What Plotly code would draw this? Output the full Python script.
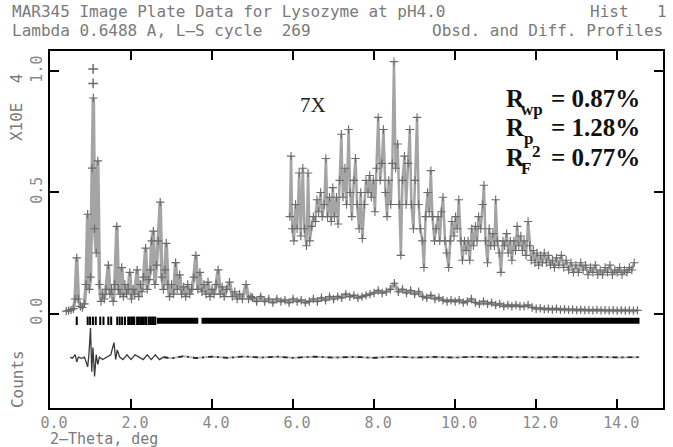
import plotly.graph_objects as go

# ---------------- data (intensities in units of 10^4 counts) ----------------
two_theta = [0.40, 0.46, 0.52, 0.58, 0.62, 0.66, 0.70, 0.75, 0.80, 0.85, 0.89, 0.93, 0.97, 1.00,
             1.04, 1.07, 1.10, 1.14, 1.18, 1.22, 1.26, 1.30, 1.34, 1.38, 1.44, 1.48, 1.52, 1.56,
             1.60, 1.65, 1.69, 1.73, 1.77, 1.81, 1.85, 1.89, 1.93, 1.97, 2.01, 2.05, 2.09, 2.15,
             2.19, 2.23, 2.27, 2.31, 2.36, 2.40, 2.44, 2.48, 2.51, 2.55, 2.59, 2.63, 2.67, 2.72,
             2.76, 2.80, 2.84, 2.87, 2.91, 2.95, 3.00, 3.05, 3.10, 3.14, 3.20, 3.25, 3.30, 3.35,
             3.40, 3.45, 3.50, 3.55, 3.60, 3.65, 3.70, 3.75, 3.80, 3.85, 3.90, 3.95, 4.00, 4.05,
             4.10, 4.15, 4.20, 4.25, 4.30, 4.36, 4.43, 4.50, 4.56, 4.62, 4.68, 4.75, 4.84, 4.90,
             4.96,
             5.0, 5.1, 5.2, 5.3, 5.4, 5.5, 5.6, 5.7, 5.8, 5.9,
             6.0, 6.1, 6.2, 6.3, 6.4, 6.5, 6.6, 6.7, 6.8, 6.9,
             7.0, 7.1, 7.2, 7.3, 7.4, 7.5, 7.6, 7.7, 7.8, 7.9,
             8.0, 8.1, 8.2, 8.3, 8.4, 8.5, 8.6, 8.7, 8.8, 8.9,
             9.0, 9.1, 9.2, 9.3, 9.4, 9.5, 9.6, 9.7, 9.8, 9.9,
             10.0, 10.1, 10.2, 10.3, 10.4, 10.5, 10.6, 10.7, 10.8, 10.9,
             11.0, 11.1, 11.2, 11.3, 11.4, 11.5, 11.6, 11.7, 11.8, 11.9,
             12.0, 12.1, 12.2, 12.3, 12.4, 12.5, 12.6, 12.7, 12.8, 12.9,
             13.0, 13.1, 13.2, 13.3, 13.4, 13.5, 13.6, 13.7, 13.8, 13.9,
             14.0, 14.1, 14.2, 14.3, 14.4, 14.5]
intensity = [0.010, 0.012, 0.015, 0.020, 0.060, 0.230, 0.060, 0.030, 0.025, 0.040, 0.120, 0.410, 0.100, 0.150,
             0.600, 0.890, 0.350, 0.250, 0.630, 0.120, 0.050, 0.080, 0.060, 0.100, 0.200, 0.080, 0.100, 0.050,
             0.120, 0.360, 0.100, 0.080, 0.190, 0.070, 0.120, 0.080, 0.100, 0.170, 0.060, 0.100, 0.080, 0.180,
             0.070, 0.120, 0.090, 0.150, 0.270, 0.100, 0.140, 0.180, 0.300, 0.340, 0.120, 0.200, 0.300, 0.460,
             0.150, 0.100, 0.180, 0.290, 0.120, 0.070, 0.120, 0.080, 0.210, 0.100, 0.160, 0.080, 0.110, 0.070,
             0.120, 0.080, 0.100, 0.150, 0.240, 0.100, 0.170, 0.090, 0.120, 0.080, 0.130, 0.070, 0.100, 0.080,
             0.120, 0.180, 0.080, 0.110, 0.070, 0.100, 0.130, 0.070, 0.090, 0.060, 0.080, 0.060, 0.120, 0.060,
             0.070,
             0.065, 0.050, 0.070, 0.050, 0.060, 0.045, 0.060, 0.050, 0.055, 0.045,
             0.060, 0.050, 0.055, 0.045, 0.050, 0.060, 0.050, 0.065, 0.055, 0.070,
             0.060, 0.070, 0.065, 0.080, 0.070, 0.075, 0.065, 0.070, 0.075, 0.080,
             0.085, 0.095, 0.085, 0.090, 0.100, 0.125, 0.090, 0.100, 0.085, 0.095,
             0.080, 0.090, 0.070, 0.065, 0.075, 0.060, 0.065, 0.055, 0.050, 0.055,
             0.050, 0.055, 0.045, 0.050, 0.060, 0.045, 0.040, 0.050, 0.040, 0.045,
             0.035, 0.040, 0.030, 0.035, 0.030, 0.035, 0.030, 0.030, 0.035, 0.025,
             0.020, 0.022, 0.018, 0.020, 0.017, 0.020, 0.016, 0.018, 0.015, 0.017,
             0.014, 0.016, 0.014, 0.015, 0.013, 0.015, 0.013, 0.014, 0.012, 0.014,
             0.012, 0.014, 0.012, 0.013, 0.012, 0.013]

# extra observed points standing above the strongest calculated peak
peak_obs_x = [1.065, 1.065]
peak_obs_y = [0.95, 1.01]

# 7X magnified high-angle section (as drawn, offset)
mag_x = [5.92, 5.95, 5.98, 6.02, 6.06, 6.10, 6.15, 6.19, 6.24, 6.28, 6.33, 6.37, 6.41, 6.46, 6.50,
         6.55, 6.59, 6.63, 6.68, 6.72, 6.77, 6.81, 6.85, 6.90, 6.94, 6.98, 7.02, 7.07, 7.11, 7.15,
         7.19, 7.23, 7.28, 7.32, 7.37, 7.41, 7.45, 7.50, 7.54, 7.58, 7.63, 7.67, 7.71, 7.76, 7.80,
         7.85, 7.89, 7.93, 7.98, 8.02, 8.06, 8.10, 8.15, 8.19, 8.23, 8.28, 8.32, 8.36, 8.41, 8.45,
         8.49, 8.53, 8.58, 8.62, 8.66, 8.70, 8.75, 8.79, 8.84, 8.88, 8.92, 8.97, 9.01, 9.06, 9.10,
         9.14, 9.19, 9.23, 9.27, 9.32, 9.36, 9.40, 9.44, 9.49, 9.53, 9.58, 9.62, 9.66, 9.70, 9.75,
         9.79, 9.84, 9.88, 9.92, 9.97, 10.01, 10.05, 10.09, 10.14, 10.18, 10.23, 10.27, 10.32, 10.36,
         10.41, 10.45, 10.50, 10.54, 10.58, 10.63, 10.68, 10.71, 10.75, 10.80, 10.84, 10.88, 10.93,
         10.97, 11.00, 11.04, 11.09, 11.13, 11.18, 11.22, 11.27, 11.31, 11.36, 11.40, 11.45, 11.49,
         11.53, 11.57, 11.62, 11.66, 11.70, 11.75, 11.80, 11.84, 11.88, 11.93, 11.97, 12.02, 12.06,
         12.11, 12.15, 12.20, 12.25, 12.30, 12.35, 12.40, 12.45, 12.50, 12.56, 12.62, 12.68, 12.74,
         12.80, 12.86, 12.92, 12.98, 13.04, 13.10, 13.16, 13.22, 13.28, 13.34, 13.40, 13.46, 13.52,
         13.58, 13.64, 13.70, 13.76, 13.82, 13.88, 13.94, 14.00, 14.06, 14.12, 14.18, 14.24, 14.30,
         14.36, 14.42]
mag_y = [0.40, 0.65, 0.35, 0.30, 0.45, 0.35, 0.58, 0.32, 0.60, 0.35, 0.28, 0.58, 0.30, 0.36, 0.40,
         0.38, 0.47, 0.42, 0.50, 0.40, 0.45, 0.64, 0.40, 0.48, 0.38, 0.52, 0.40, 0.48, 0.37, 0.55,
         0.74, 0.48, 0.60, 0.45, 0.76, 0.50, 0.40, 0.55, 0.64, 0.45, 0.35, 0.50, 0.31, 0.45, 0.55,
         0.50, 0.57, 0.48, 0.55, 0.42, 0.60, 0.81, 0.55, 0.62, 0.76, 0.50, 0.40, 0.55, 0.45, 0.62,
         1.04, 0.60, 0.70, 0.45, 0.24, 0.55, 0.65, 0.45, 0.62, 0.76, 0.45, 0.35, 0.55, 0.81, 0.45,
         0.35, 0.30, 0.19, 0.40, 0.50, 0.42, 0.59, 0.40, 0.30, 0.35, 0.40, 0.30, 0.42, 0.48, 0.30,
         0.25, 0.19, 0.30, 0.38, 0.32, 0.40, 0.35, 0.47, 0.30, 0.22, 0.30, 0.26, 0.30, 0.22,
         0.35, 0.28, 0.36, 0.30, 0.40, 0.35, 0.45, 0.53, 0.30, 0.21, 0.35, 0.28, 0.33,
         0.28, 0.47, 0.30, 0.25, 0.17, 0.30, 0.28, 0.33, 0.25, 0.30, 0.22, 0.30, 0.26,
         0.36, 0.28, 0.32, 0.26, 0.30, 0.24, 0.38, 0.28, 0.22, 0.26, 0.21, 0.25, 0.20,
         0.24, 0.21, 0.25, 0.21, 0.24, 0.20, 0.22, 0.19, 0.23, 0.20, 0.24, 0.19, 0.22,
         0.18, 0.21, 0.17, 0.20, 0.17, 0.21, 0.18, 0.20, 0.16, 0.19, 0.17, 0.20, 0.16,
         0.18, 0.16, 0.19, 0.17, 0.20, 0.16, 0.18, 0.17, 0.19, 0.16, 0.18, 0.17, 0.19,
         0.18, 0.21]

# difference curve (obs - calc, offset)
diff_x = [0.50, 0.55, 0.62, 0.66, 0.70, 0.78, 0.85, 0.90, 0.93, 0.96, 1.00, 1.03, 1.06, 1.10, 1.14,
          1.18, 1.22, 1.30, 1.40, 1.50, 1.58, 1.62, 1.66, 1.72, 1.80, 1.90, 2.00, 2.10, 2.20, 2.30,
          2.40, 2.50, 2.60, 2.70, 2.80, 3.00, 3.30, 3.60, 4.00, 4.40, 4.80, 5.20, 5.60, 6.00, 6.50,
          7.00, 7.50, 8.00, 8.50, 9.00, 9.50, 10.00, 10.50, 11.00, 11.50, 12.00, 12.50, 13.00,
          13.50, 14.00, 14.55]
diff_y = [-0.180, -0.185, -0.170, -0.200, -0.180, -0.185, -0.180, -0.200, -0.220, -0.170, -0.060,
          -0.240, -0.140, -0.260, -0.170, -0.210, -0.180, -0.190, -0.180, -0.170, -0.120, -0.190,
          -0.150, -0.180, -0.190, -0.170, -0.190, -0.170, -0.180, -0.190, -0.170, -0.190, -0.170,
          -0.190, -0.180, -0.185, -0.176, -0.184, -0.178, -0.183, -0.177, -0.182, -0.178, -0.183,
          -0.178, -0.182, -0.179, -0.183, -0.178, -0.182, -0.179, -0.182, -0.178, -0.181, -0.179,
          -0.181, -0.179, -0.181, -0.179, -0.181, -0.180]
diff_split = 2.8  # beyond this the difference trace is drawn as a dashed line

# reflection positions (individual at low angle, continuous blocks above)
refl_x = [0.66, 0.93, 0.99, 1.06, 1.13, 1.24, 1.32, 1.44, 1.51, 1.66, 1.72, 1.78, 1.85, 1.93, 1.97,
          2.01, 2.05, 2.08, 2.15, 2.19, 2.23, 2.27, 2.31, 2.35, 2.38, 2.44, 2.48, 2.52, 2.56, 2.60]
refl_blocks = [(2.64, 3.66), (3.74, 14.55)]
refl_level = -0.03

x_ticks = [0, 2, 4, 6, 8, 10, 12, 14]
x_tick_text = ["0.0", "2.0", "4.0", "6.0", "8.0", "10.0", "12.0", "14.0"]
y_ticks = [0.0, 0.5, 1.0]
y_tick_text = ["0.0", "0.5", "1.0"]

# ---------------- figure ----------------
L, R, T, B = 50, 8, 51, 39
W, H = 673, 447
PW, PH = W - L - R, H - T - B


def paper(px, py):
    return (px - L) / PW, (H - B - py) / PH


fig = go.Figure()

fig.add_trace(go.Scatter(x=two_theta, y=intensity, mode="lines+markers",
                         line=dict(color="#a4a4a4", width=3.5),
                         marker=dict(symbol="cross-thin", size=6,
                                     line=dict(color="#6a6a6a", width=1.2)),
                         showlegend=False))
fig.add_trace(go.Scatter(x=peak_obs_x, y=peak_obs_y, mode="markers",
                         marker=dict(symbol="cross-thin", size=7,
                                     line=dict(color="#6a6a6a", width=1.5)),
                         showlegend=False))
fig.add_trace(go.Scatter(x=mag_x, y=mag_y, mode="lines+markers",
                         line=dict(color="#a4a4a4", width=2.5),
                         marker=dict(symbol="cross-thin", size=6,
                                     line=dict(color="#6a6a6a", width=1.1)),
                         showlegend=False))

lo = [i for i, v in enumerate(diff_x) if v <= diff_split]
hi = [i for i, v in enumerate(diff_x) if v >= diff_split]
fig.add_trace(go.Scatter(x=[diff_x[i] for i in lo], y=[diff_y[i] for i in lo], mode="lines",
                         line=dict(color="#3a3a3a", width=1.3), showlegend=False))
fig.add_trace(go.Scatter(x=[diff_x[i] for i in hi], y=[diff_y[i] for i in hi], mode="lines",
                         line=dict(color="#b8b8b8", width=2), showlegend=False))
fig.add_trace(go.Scatter(x=[diff_x[i] for i in hi], y=[diff_y[i] for i in hi], mode="lines",
                         line=dict(color="#222222", width=1.6, dash="5px,4px,2px,4px"),
                         showlegend=False))

fig.add_trace(go.Scatter(x=refl_x, y=[refl_level] * len(refl_x), mode="markers",
                         marker=dict(symbol="line-ns", size=6,
                                     line=dict(color="black", width=2)),
                         showlegend=False))
bx, by = [], []
for a, b in refl_blocks:
    bx += [a, b, None]
    by += [refl_level, refl_level, None]
fig.add_trace(go.Scatter(x=bx, y=by, mode="lines",
                         line=dict(color="black", width=6),
                         showlegend=False))

mono = "DejaVu Sans Mono"
tick_font = dict(family=mono, size=15, color="#8a8a8a")
fig.update_xaxes(range=[0, 15.13], tickvals=x_ticks, ticktext=x_tick_text,
                 ticks="inside", ticklen=9, tickwidth=2, tickcolor="black",
                 showline=True, linewidth=2, linecolor="black", mirror="ticks",
                 showgrid=False, zeroline=False, tickfont=tick_font, ticklabelshift=4)
fig.update_yaxes(range=[-0.39, 1.084], tickvals=y_ticks, ticktext=y_tick_text,
                 ticks="inside", ticklen=9, tickwidth=2, tickcolor="black",
                 showline=True, linewidth=2, linecolor="black", mirror="ticks",
                 showgrid=False, zeroline=False, tickangle=-90, tickfont=tick_font)

ann = []
txt_font = dict(family=mono, size=16, color="#7a7a7a")


def add_text(text, px, py, xa="left", ya="middle", font=txt_font, angle=0):
    x, y = paper(px, py)
    ann.append(dict(text=text, x=x, y=y, xref="paper", yref="paper", xanchor=xa,
                    yanchor=ya, showarrow=False, font=font, textangle=angle))


add_text("MAR345 Image Plate Data for Lysozyme at pH4.0", 10, 12)
add_text("Hist", 590, 12)
add_text("1", 664, 12, xa="center")
add_text("Lambda 0.6488 A, L\u2013S cycle\u00a0\u00a0269", 10, 31)
add_text("Obsd. and Diff. Profiles", 667, 31, xa="right")
add_text("X10E\u00a0\u00a04", 16, 108, xa="center", angle=-90)
add_text("Counts", 17, 379, xa="center", angle=-90)
add_text("2\u2013Theta, deg", 48, 439, font=dict(family=mono, size=15, color="#7a7a7a"))

add_text("7X", 314, 105, xa="center", font=dict(family="Liberation Serif", size=21, color="#222"))

big = dict(family="Liberation Serif", size=25, color="#111")
small = dict(family="Liberation Serif", size=17, color="#111")
r_lines = [  # (subscript, superscript, value text, cap-centre y)
    ("wp", "", "= 0.87%", 98),
    ("p", "", "= 1.28%", 127),
    ("F", "2", "= 0.77%", 157),
]
for sub, sup, val, yc in r_lines:
    add_text("<b>R</b>", 505, yc, font=big)
    add_text("<b>%s</b>" % sub, 521 if sub != "p" else 524, yc + 11, font=small)
    if sup:
        add_text("<b>%s</b>" % sup, 532, yc - 6, font=small)
    add_text("<b>%s</b>" % val, 644, yc, xa="right", font=big)

fig.update_layout(width=W, height=H, margin=dict(l=L, r=R, t=T, b=B),
                  paper_bgcolor="white", plot_bgcolor="white", annotations=ann,
                  showlegend=False)

fig.write_html("out.html")
